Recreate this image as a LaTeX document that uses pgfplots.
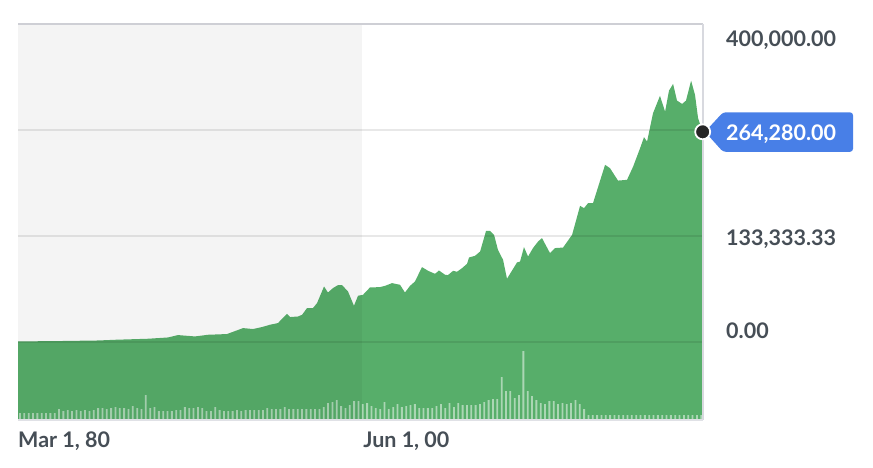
\documentclass[border=0pt]{standalone}
\usepackage{pgfplots}
\usepackage{pgfplotstable}
\pgfplotsset{compat=1.18}
\usetikzlibrary{calc}
\usepackage{fontspec}
\setmainfont{Lato}
\definecolor{areagreen}{RGB}{87,174,106}
\definecolor{tagblue}{RGB}{72,127,231}
\definecolor{labelgray}{RGB}{70,78,86}
\definecolor{topline}{RGB}{206,207,213}
\definecolor{sideline}{RGB}{216,217,223}
\definecolor{bottomline}{RGB}{224,225,230}

\pgfplotstableread{
year price
1980.17 400
1982.64 900
1984.87 1600
1985.88 2500
1987.82 3800
1988.99 5400
1989.58 8400
1990.58 6700
1991.35 8800
1992.46 9700
1993.41 17200
1993.99 16000
1994.52 18500
1994.99 21400
1995.46 23500
1995.99 35200
1996.17 31100
1996.64 31800
1996.88 34000
1997.17 42400
1997.52 42400
1997.76 48700
1998.17 69600
1998.40 62000
1998.70 67600
1998.99 71300
1999.23 71300
1999.58 63300
1999.93 45300
2000.17 57900
2000.46 59100
2000.87 68300
2001.46 68800
2001.76 70400
2002.17 73800
2002.64 71700
2002.93 62000
2003.23 70400
2003.52 75900
2003.93 94000
2004.29 89300
2004.70 85500
2004.93 89700
2005.29 84300
2005.46 83900
2005.76 89300
2005.99 88100
2006.29 92700
2006.58 98100
2006.70 106100
2007.05 108200
2007.35 113600
2007.70 139600
2007.93 139600
2008.17 134600
2008.40 115700
2008.70 103100
2008.93 79300
2009.23 89700
2009.52 99800
2009.70 101000
2009.93 119100
2010.17 107300
2010.46 117900
2010.76 126200
2010.99 130500
2011.46 111600
2011.76 117900
2012.23 118600
2012.76 134600
2013.23 171100
2013.46 168200
2013.70 174500
2013.99 174500
2014.70 222700
2014.99 218500
2015.46 202900
2015.99 203800
2016.35 220500
2016.76 243700
2016.99 257500
2017.17 252000
2017.52 287700
2017.93 309500
2018.23 289700
2018.46 316100
2018.70 324600
2018.93 303600
2019.23 299400
2019.46 303600
2019.76 328700
2019.99 310700
2020.17 281400
2020.44 264280
}\pricetable

\pgfplotstableread[row sep=\\]{
vol\\
7\\7\\7\\7\\7\\7\\7\\7\\7\\11\\
9\\10\\9\\10\\9\\10\\9\\10\\12\\12\\
11\\12\\13\\12\\12\\11\\14\\12\\11\\25\\
12\\13\\9\\9\\9\\9\\10\\10\\13\\12\\
12\\13\\12\\9\\9\\13\\10\\9\\9\\9\\
10\\9\\10\\10\\10\\10\\10\\12\\11\\11\\
11\\13\\11\\11\\11\\11\\11\\11\\11\\11\\
13\\17\\18\\20\\14\\12\\15\\19\\19\\16\\
17\\14\\12\\11\\18\\11\\13\\16\\13\\14\\
15\\16\\12\\12\\12\\12\\14\\16\\12\\17\\
13\\17\\15\\15\\15\\15\\16\\18\\20\\21\\
21\\43\\29\\29\\22\\25\\69\\29\\24\\20\\
17\\16\\19\\19\\16\\17\\16\\17\\20\\16\\
11\\5\\5\\5\\5\\5\\5\\5\\5\\5\\
5\\5\\5\\5\\5\\5\\5\\5\\5\\5\\
5\\5\\5\\5\\5\\5\\5\\5\\
}\voltable

\begin{document}
\begin{tikzpicture}[x=1pt,y=1pt]
\path[use as bounding box] (0,0) rectangle (873,467);

% price area
\begin{axis}[at={(18pt,47pt)}, anchor=south west, scale only axis,
  width=685pt, height=396pt,
  xmin=1980.17, xmax=2020.46, ymin=-98500, ymax=400000,
  hide axis]
\addplot[draw=none, fill=areagreen] table[x=year,y=price]{\pricetable}
  -- (axis cs:2020.44,-98500) -- (axis cs:1980.17,-98500) -- cycle;
\end{axis}

% volume bars
\begin{axis}[at={(18pt,47pt)}, anchor=south west, scale only axis,
  width=685pt, height=396pt,
  xmin=-0.46, xmax=157.4, ymin=0, ymax=396,
  hide axis]
\addplot[ybar, bar width=1.8pt, bar shift=0pt, fill=white, fill opacity=0.5, draw=none]
  table[x expr=\coordindex, y=vol]{\voltable};
\end{axis}

% overlay: grid, borders, labels, tag
\begin{axis}[at={(18pt,47pt)}, anchor=south west, scale only axis,
  width=685pt, height=396pt,
  xmin=1980.17, xmax=2020.46, ymin=-98500, ymax=400000,
  xtick=\empty, ytick={0,133333.33,266666.67},
  scaled y ticks=false,
  yticklabels={}, ymajorgrids,
  major tick length=0pt,
  axis line style={draw=none},
  grid style={black, opacity=0.09, line width=1.5pt},
  clip=false]
\fill[black, opacity=0.045] (axis cs:1980.17,-98500) rectangle (axis cs:2000.42,400000);
\draw[topline, line width=1.3pt] (rel axis cs:0,1) -- (rel axis cs:1,1);
\draw[sideline, line width=1.6pt] (rel axis cs:1,0) -- (rel axis cs:1,1);
\draw[bottomline, line width=1.2pt] (rel axis cs:0,0) -- (rel axis cs:1,0);

\tikzset{lab/.style={anchor=base west, inner sep=0pt, text=labelgray,
  font=\fontsize{21.5}{25}\bfseries}}
\node[lab, xshift=23pt] at (axis cs:2020.46,372300) {400,000.00};
\node[lab, xshift=23pt] at (axis cs:2020.46,121100) {133,333.33};
\node[lab, xshift=23pt] at (axis cs:2020.46,3800) {0.00};
\node[lab] at (axis cs:1980.17,-133000) {Mar 1, 80};
\node[lab] at (axis cs:2000.47,-133000) {Jun 1, 00};

\coordinate (P) at (axis cs:2020.46,264280);
\fill[tagblue, rounded corners=3pt] ($(P)+(2pt,0pt)$) -- ($(P)+(20pt,19.5pt)$)
  -- ($(P)+(150pt,19.5pt)$) -- ($(P)+(150pt,-20pt)$) -- ($(P)+(20pt,-20pt)$) -- cycle;
\node[lab, text=white, xshift=23pt] at (axis cs:2020.46,253000) {264,280.00};
\end{axis}

% last-price dot on top
\begin{axis}[at={(18pt,47pt)}, anchor=south west, scale only axis,
  width=685pt, height=396pt,
  xmin=1980.17, xmax=2020.46, ymin=-98500, ymax=400000,
  hide axis, clip=false]
\addplot[only marks, mark=*, mark size=7.5pt,
  mark options={fill=black!85, draw=white, line width=1.8pt}]
  coordinates {(2020.44,264280)};
\end{axis}
\end{tikzpicture}
\end{document}
